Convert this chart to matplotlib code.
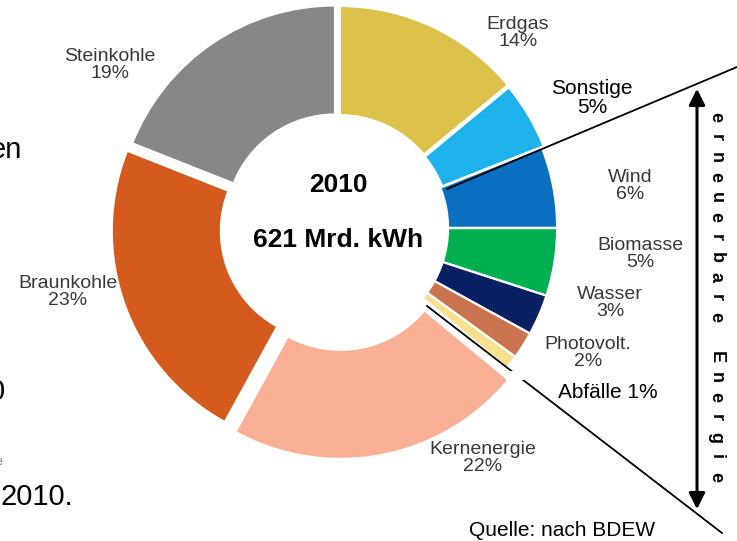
import matplotlib
matplotlib.use("Agg")
import matplotlib.pyplot as plt
from matplotlib.patches import Rectangle

plt.rcParams["font.family"] = ["Liberation Sans", "DejaVu Sans"]

# Data: Bruttostromerzeugung Deutschland 2010 (Quelle: BDEW)
sources = ["Erdgas", "Sonstige", "Wind", "Biomasse", "Wasser",
           "Photovolt.", "Abfälle", "Kernenergie", "Braunkohle", "Steinkohle"]
shares = [14, 5, 6, 5, 3, 2, 1, 22, 23, 19]
colors = ["#DCC14B", "#1DB2EB", "#0B6FC1", "#00B050", "#0B1F63",
          "#C9744F", "#F8E08F", "#F9B095", "#D45A1E", "#878787"]
explode = [0.02, 0.015, 0.005, 0.005, 0.005, 0.005, 0.005, 0.06, 0.04, 0.025]

# label anchor points in pixels (x, y from top)
label_pos = [(518, 33), (592, 98), (630, 186), (640, 254), (610, 303),
             (588, 353), (608, 393), (483, 458), (68, 292), (110, 65)]

W, H = 737, 541
CX, CY, R = 338, 228, 218

fig = plt.figure(figsize=(W / 100, H / 100), dpi=100, facecolor="white")

# donut
lim = 1.3
side = 2 * lim * R
pax = fig.add_axes([(CX - side / 2) / W, (H - CY - side / 2) / H, side / W, side / H])
pax.pie(shares, colors=colors, startangle=90, counterclock=False, explode=explode,
        wedgeprops=dict(width=0.5, edgecolor="white", linewidth=1.5))
pax.set_xlim(-lim, lim)
pax.set_ylim(-lim, lim)
pax.axis("off")

# overlay in pixel coordinates
ax = fig.add_axes([0, 0, 1, 1])
ax.set_xlim(0, W)
ax.set_ylim(H, 0)
ax.axis("off")

black_labels = {"Sonstige", "Abfälle"}
for name, val, (x, y) in zip(sources, shares, label_pos):
    txt = f"{name} {val}%" if name == "Abfälle" else f"{name}\n{val}%"
    if name in black_labels:
        ax.text(x, y, txt, ha="center", va="center", fontsize=15, color="black",
                linespacing=1.0)
    else:
        ax.text(x, y, txt, ha="center", va="center", fontsize=14, color="#383838",
                linespacing=0.95)

# white strip that hides the lower part of "2%"
ax.add_patch(Rectangle((505, 371), 100, 9, facecolor="white", edgecolor="none", zorder=5))

# centre text
ax.text(CX, 185, "2010", ha="center", va="center", fontsize=19, fontweight="bold")
ax.text(CX, 240, "621 Mrd. kWh", ha="center", va="center", fontsize=19, fontweight="bold")

# lines marking the renewable block
ax.plot([447, W], [189, 67], color="black", lw=1.3)
ax.plot([427, 722], [306, 533], color="black", lw=1.3)

# double arrow and vertical label
ax.annotate("", xy=(697, 86), xytext=(697, 512),
            arrowprops=dict(arrowstyle="<|-|>", color="black", lw=2.2, mutation_scale=24))
word = "erneuerbare Energie"
step = (477 - 117) / (len(word) - 1)
for i, ch in enumerate(word):
    if ch != " ":
        ax.text(716, 117 + i * step, ch, ha="center", va="center", rotation=-90,
                fontsize=13, fontweight="bold")

ax.text(562, 531, "Quelle: nach BDEW", ha="center", va="center", fontsize=15)

# text cut off at the left edge (belongs to surrounding slide)
ax.text(22, 150, "en", ha="right", va="center", fontsize=21)
ax.text(5, 392, "0", ha="right", va="center", fontsize=21)
ax.text(2, 462, "e", ha="right", va="center", fontsize=9, color="#777777")
ax.text(0, 497, "2010.", ha="left", va="center", fontsize=21)

fig.savefig("out.png", dpi=100, facecolor="white")
